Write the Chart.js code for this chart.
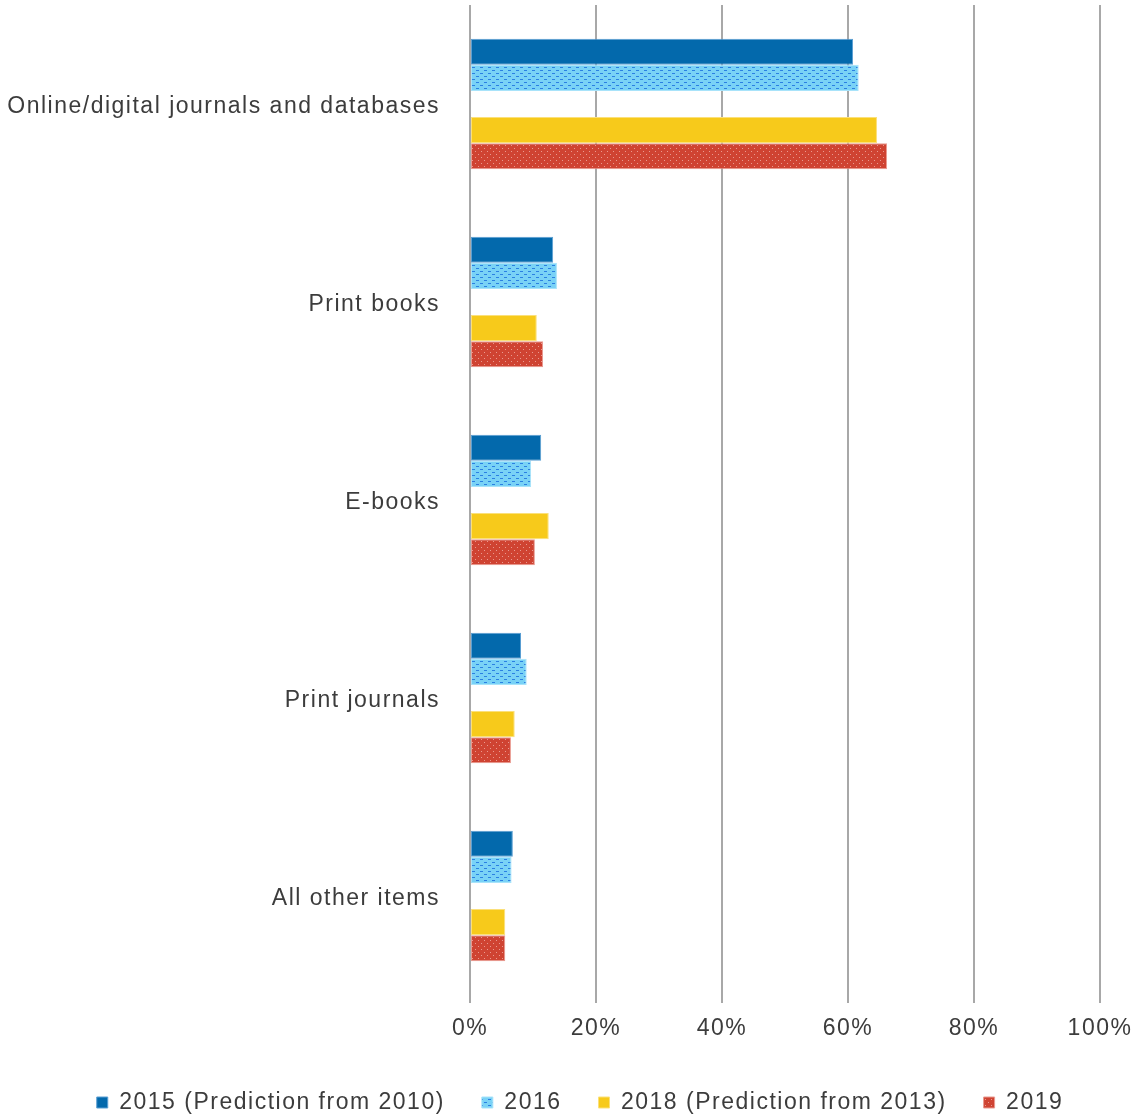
<!DOCTYPE html>
<html>
<head>
<meta charset="utf-8">
<script src="https://cdn.jsdelivr.net/npm/chart.js@4"></script>
<style>
html,body{margin:0;padding:0;background:#fff;}
#wrap{width:1135px;height:1119px;}
</style>
</head>
<body>
<div id="wrap"><canvas id="c" width="1135" height="1119"></canvas></div>
<script>
const categories = ["Online/digital journals and databases", "Print books", "E-books", "Print journals", "All other items"];
const seriesNames = ["2015 (Prediction from 2010)", "2016", "2018 (Prediction from 2013)", "2019"];
const v2015 = [60.8, 13.2, 11.3, 8.1, 6.8];
const v2016 = [61.7, 13.8, 9.7, 9.0, 6.6];
const v2018 = [64.6, 10.6, 12.5, 7.1, 5.6];
const v2019 = [66.2, 11.6, 10.3, 6.5, 5.6];
const xTicks = [0, 20, 40, 60, 80, 100];

function makePattern(w, h, bg, fg, marks) {
  const c = document.createElement('canvas');
  c.width = w; c.height = h;
  const g = c.getContext('2d');
  g.fillStyle = bg; g.fillRect(0, 0, w, h);
  g.fillStyle = fg;
  marks.forEach(m => g.fillRect(m[0], m[1], m[2], m[3]));
  return g.createPattern(c, 'repeat');
}
const ctx = document.getElementById('c').getContext('2d');
const pat2016 = makePattern(8, 6, '#79d2f6', '#2a80e2', [[0,1,3,1],[4,4,3,1]]);
const pat2019 = makePattern(6, 6, '#cf4332', '#e99a90', [[1,1,1,1],[4,4,1,1]]);

const textColor = '#3c3c3c';
const font = {family: "'Liberation Sans', Arial, sans-serif", size: 23};
const spacing = {
  id: 'spacing',
  beforeUpdate: c => { c.ctx.letterSpacing = '1.5px'; },
  beforeLayout: c => { c.ctx.letterSpacing = '1.5px'; },
  afterLayout: c => { c.legend.right = 1160; },
  beforeDraw: c => { c.ctx.letterSpacing = '1.5px'; }
};

new Chart(ctx, {
  type: 'bar',
  plugins: [spacing],
  data: {
    labels: categories,
    datasets: [
      {label: seriesNames[0], data: v2015, backgroundColor: '#0369ac', borderColor: '#5b9fd3', borderWidth: 1},
      {label: seriesNames[1], data: v2016, backgroundColor: pat2016, borderColor: '#a8e3fa', borderWidth: 1},
      {label: '', data: categories.map(() => null), backgroundColor: 'rgba(0,0,0,0)'},
      {label: seriesNames[2], data: v2018, backgroundColor: '#f7ca1b', borderColor: '#fbe07a', borderWidth: 1},
      {label: seriesNames[3], data: v2019, backgroundColor: pat2019, borderColor: '#e99a90', borderWidth: 1}
    ]
  },
  options: {
    indexAxis: 'y',
    responsive: false,
    animation: false,
    datasets: {bar: {barPercentage: 1, categoryPercentage: 0.66, borderSkipped: false}},
    layout: {padding: {left: 0, right: 35, top: 5, bottom: -5}},
    scales: {
      y: {
        grid: {display: false, drawTicks: false},
        border: {display: false},
        ticks: {color: textColor, font: font, padding: 30, labelOffset: 3},
        afterFit: s => { s.width = 470; s.paddingTop = 0; s.paddingBottom = 0; }
      },
      x: {
        min: 0, max: 100,
        afterBuildTicks: s => { s.ticks = xTicks.map(v => ({value: v})); },
        grid: {color: '#a8a8a8', lineWidth: 2, tickLength: 8, tickColor: '#a8a8a8'},
        border: {display: false},
        ticks: {color: textColor, font: font, padding: 12, callback: v => v + '%'},
        afterFit: s => {
          s.paddingLeft = 0; s.paddingRight = 0;
          s.height = (s.chart.height + 5 - s.chart.legend.height) - 995;
        }
      }
    },
    plugins: {
      tooltip: {enabled: false},
      legend: {
        position: 'bottom',
        labels: {
          color: textColor, font: font, boxWidth: 11, boxHeight: 11, padding: 37,
          filter: item => item.text !== ''
        }
      }
    }
  }
});
</script>
</body>
</html>
